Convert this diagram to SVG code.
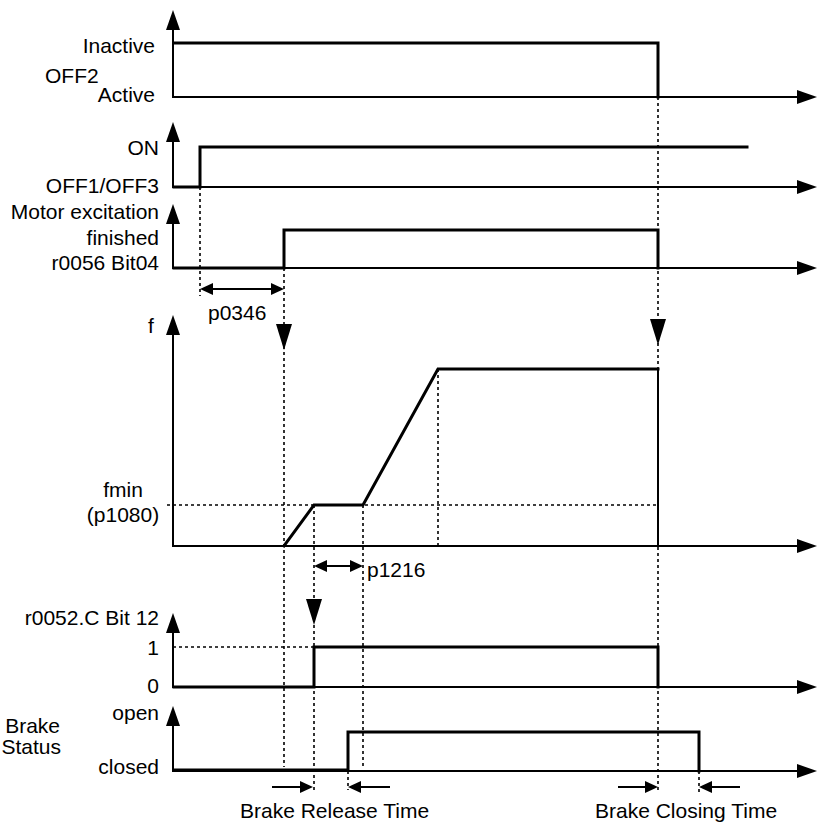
<svg xmlns="http://www.w3.org/2000/svg" width="836" height="824" viewBox="0 0 836 824">
<style>
.ax{fill:none;stroke:#000;stroke-width:2}
.sig{fill:none;stroke:#000;stroke-width:3;stroke-linejoin:miter;stroke-linecap:square}
.dot{fill:none;stroke:#000;stroke-width:1.6;stroke-dasharray:3 3}
.thin{fill:none;stroke:#000;stroke-width:2}
.hd{fill:#000}
text{font-family:"Liberation Sans",Arial,sans-serif;font-size:21px;fill:#000}
.e{text-anchor:end}
.m{text-anchor:middle}
</style>
<defs>
<path id="up" d="M0,0 L-7,20 L7,20 Z"/>
<path id="rt" d="M0,0 L-20,-7 L-20,7 Z"/>
<path id="dn" d="M0,0 L-8,-26 L8,-26 Z"/>
<path id="sr" d="M0,0 L-13,-6 L-13,6 Z"/>
<path id="sl" d="M0,0 L13,-6 L13,6 Z"/>
</defs>
<rect width="836" height="824" fill="#fff"/>

<g id="axes">
<path class="ax" d="M173,20 V97 H800"/>
<path class="ax" d="M173,132 V187 H800"/>
<path class="ax" d="M173,214 V268 H800"/>
<path class="ax" d="M173,325 V546 H800"/>
<path class="ax" d="M173,623 V687 H800"/>
<path class="ax" d="M173,716 V771 H800"/>
<g class="hd">
<use href="#up" x="173" y="10"/><use href="#rt" x="817" y="97"/>
<use href="#up" x="173" y="122"/><use href="#rt" x="817" y="187"/>
<use href="#up" x="173" y="204"/><use href="#rt" x="817" y="268"/>
<use href="#up" x="173" y="315"/><use href="#rt" x="817" y="546"/>
<use href="#up" x="173" y="613"/><use href="#rt" x="817" y="687"/>
<use href="#up" x="173" y="706"/><use href="#rt" x="817" y="771"/>
</g>
</g>

<g id="connectors">
<path class="dot" d="M200,187 V296"/>
<path class="dot" d="M284,268 V767"/>
<path class="dot" d="M658,97 V793"/>
<path class="dot" d="M314,505 V790"/>
<path class="dot" d="M363,505 V768"/>
<path class="dot" d="M438,369 V546"/>
<path class="dot" d="M348,771 V790"/>
<path class="dot" d="M699,771 V793"/>
<path class="dot" d="M167,505 H658"/>
<path class="dot" d="M173,647 H314"/>
<g class="hd">
<use href="#dn" x="284" y="350"/>
<use href="#dn" x="658" y="345"/>
<use href="#dn" x="314" y="625"/>
</g>
<path class="thin" d="M210,289 H274"/>
<use class="hd" href="#sl" x="200" y="289"/>
<use class="hd" href="#sr" x="284" y="289"/>
<path class="thin" d="M324,566 H353"/>
<use class="hd" href="#sl" x="314" y="566"/>
<use class="hd" href="#sr" x="363" y="566"/>
<path class="thin" d="M272,787 H302"/>
<use class="hd" href="#sr" x="313" y="787"/>
<path class="thin" d="M360,787 H390"/>
<use class="hd" href="#sl" x="348" y="787"/>
<path class="thin" d="M618,787 H647"/>
<use class="hd" href="#sr" x="658" y="787"/>
<path class="thin" d="M711,787 H740"/>
<use class="hd" href="#sl" x="699" y="787"/>
</g>

<g id="off2">
<path class="sig" d="M174,43 H658 V97"/>
<text class="e" x="155" y="53">Inactive</text>
<text x="45" y="83">OFF2</text>
<text class="e" x="155" y="102">Active</text>
</g>

<g id="on">
<path class="sig" d="M174,187 H200 V147 H747"/>
<text class="e" x="159" y="155">ON</text>
<text class="e" x="159" y="193">OFF1/OFF3</text>
</g>

<g id="excitation">
<path class="sig" d="M174,268 H284 V230 H658 V268"/>
<text class="e" x="159" y="219">Motor excitation</text>
<text class="e" x="159" y="245">finished</text>
<text class="e" x="159" y="270">r0056 Bit04</text>
<text x="208" y="320">p0346</text>
</g>

<g id="frequency">
<path class="sig" d="M284,546 L314,505 H363 L438,369 H658"/>
<path class="thin" d="M658,369 V546"/>
<text x="148" y="333">f</text>
<text class="m" x="123" y="497">fmin</text>
<text class="m" x="123" y="522">(p1080)</text>
<text x="367" y="577">p1216</text>
</g>

<g id="r0052">
<path class="sig" d="M174,687 H314 V647 H658 V687"/>
<text class="e" x="159" y="625">r0052.C Bit 12</text>
<text class="e" x="159" y="655">1</text>
<text class="e" x="159" y="693">0</text>
</g>

<g id="brake">
<path class="sig" d="M174,770 H348 V732 H699 V771"/>
<text class="e" x="159" y="720">open</text>
<text class="e" x="159" y="774">closed</text>
<text class="e" x="60" y="733">Brake</text>
<text class="e" x="61" y="754">Status</text>
<text x="240" y="818">Brake Release Time</text>
<text x="595" y="818">Brake Closing Time</text>
</g>
</svg>
